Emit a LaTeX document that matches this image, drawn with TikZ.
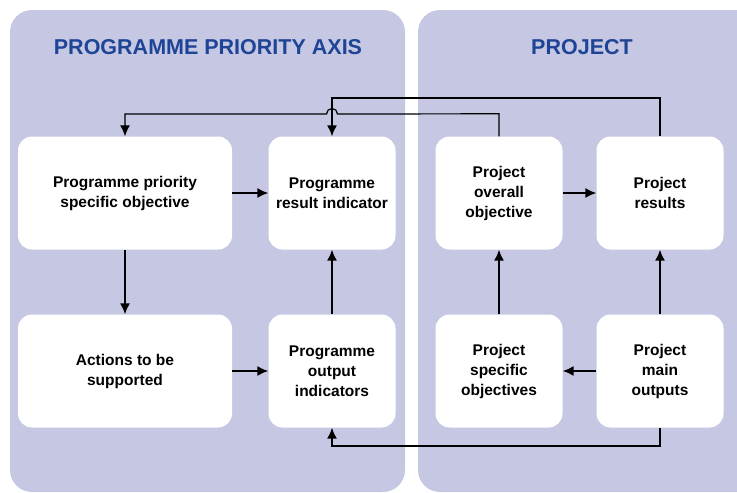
\documentclass[tikz,border=0pt]{standalone}
\usepackage{fontspec}
\setmainfont{Liberation Sans}
\usepackage{tikz}
\usetikzlibrary{arrows.meta}
\usetikzlibrary{positioning}
\definecolor{panelblue}{HTML}{C6C7E3}
\definecolor{titleblue}{HTML}{1E4496}

\begin{document}
\begin{tikzpicture}[
		x=1pt, y=-1pt,
		Panel/.style={fill=panelblue,draw=none,rounded corners=22pt},
		Title/.style={text=titleblue,font=\fontsize{21.5}{26}\selectfont\bfseries},
		Box/.style={fill=white,draw=none,rounded corners=14pt,minimum width=127pt,minimum height=113pt,align=center,inner sep=2pt,font=\fontsize{15.5}{20}\selectfont\bfseries},
		WideBox/.style={Box,minimum width=214pt},
		Arrow/.style={draw=black,line width=1.5pt,-{Latex[length=11pt, width=10pt]}}
		]
		
		\useasboundingbox (0,0) rectangle (737,493);
		\clip (0,0) rectangle (737,493);
		
		% the two panels
		\fill[Panel] (10,10) rectangle (405,492);
		\fill[Panel] (418,10) rectangle (770,492);
		
		\node[Title] (progtitle) at (208,47) {PROGRAMME PRIORITY AXIS};
		\node[Title] (projtitle) at (582,47) {PROJECT};
		
		% programme side
		\node[WideBox] (objective) at (125,193) {Programme priority\\specific objective};
		\node[Box] (result) at (332,193) {Programme\\result indicator};
		\node[WideBox] (actions) at (125,371) {Actions to be\\supported};
		\node[Box] (output) at (332,371) {Programme\\output\\indicators};
		
		% project side
		\node[Box] (overall) at (499,193) {Project\\overall\\objective};
		\node[Box] (results) at (660,193) {Project\\results};
		\node[Box] (specific) at (499,371) {Project\\specific\\objectives};
		\node[Box] (mainout) at (660,371) {Project\\main\\outputs};
		
		\draw[Arrow] (objective) -- (result);
		\draw[Arrow] (objective) -- (actions);
		\draw[Arrow] (actions) -- (output);
		\draw[Arrow] (output) -- (result);
		
		\draw[Arrow] (overall) -- (results);
		\draw[Arrow] (specific) -- (overall);
		\draw[Arrow] (mainout) -- (results);
		\draw[Arrow] (mainout) -- (specific);
		
		% long connectors between the panels
		\draw[Arrow] (mainout.south) -- ++(0,18.5) -| (output.south);
		\draw[Arrow] (results.north) -- ++(0,-38.5) -| (result.north);
		\draw[Arrow,line width=1.2pt] (overall.north) -- ++(0,-22.5) -- (337.5,114)
		arc[start angle=0, end angle=-180, radius=5.5] -| (objective.north);
		
\end{tikzpicture}
\end{document}
